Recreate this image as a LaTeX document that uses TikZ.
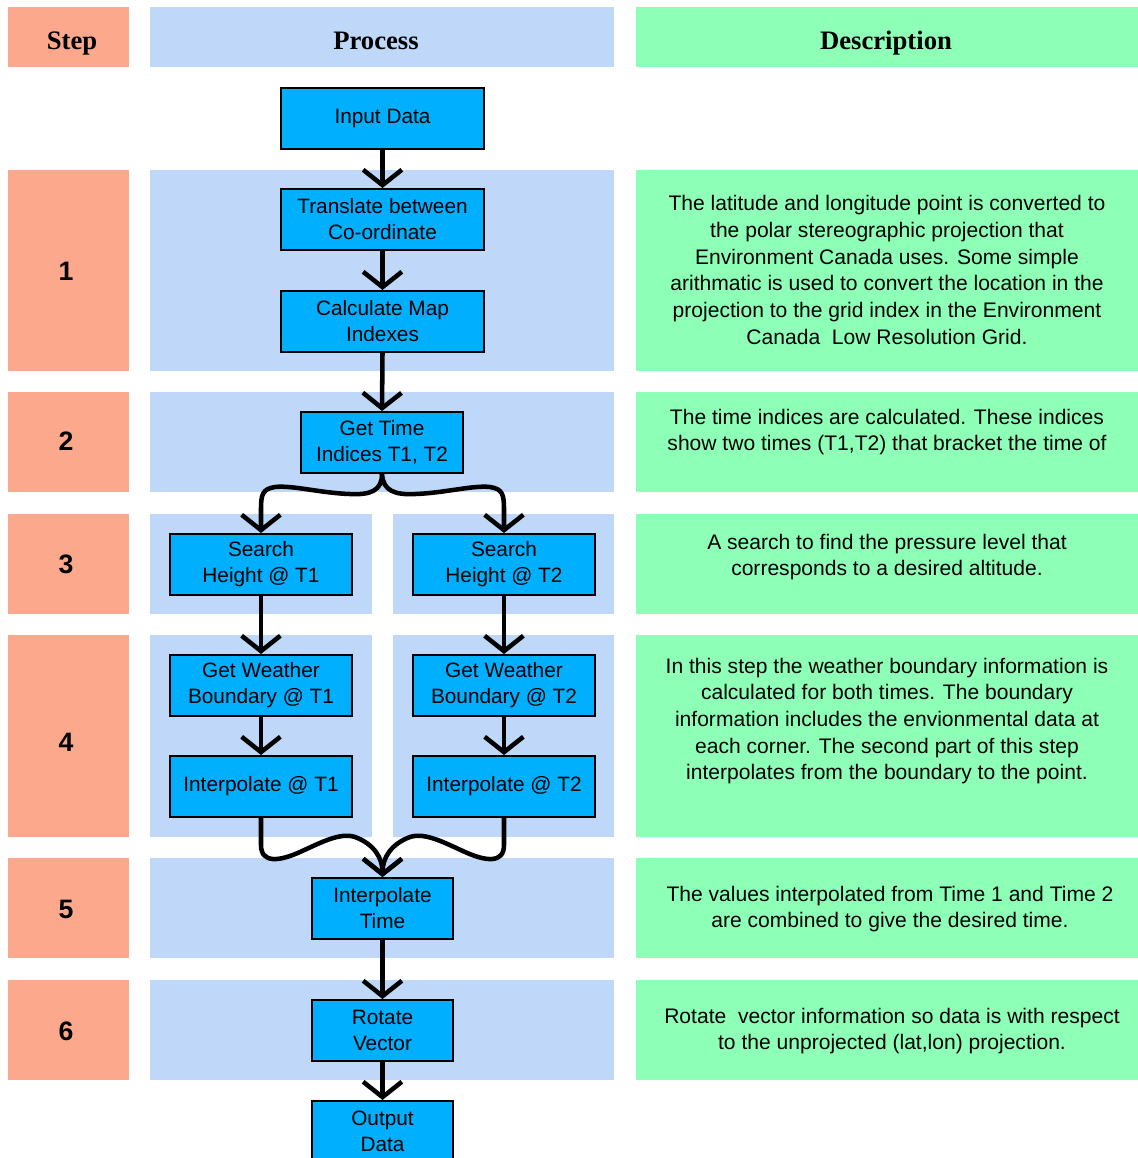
\documentclass[tikz,border=0pt]{standalone}
\usepackage{fontspec}
\setmainfont{Liberation Serif}
\setsansfont{Liberation Sans}
\usetikzlibrary{arrows.meta}
\definecolor{stepc}{RGB}{252,168,140}
\definecolor{procc}{RGB}{191,216,250}
\definecolor{descc}{RGB}{142,255,182}
\definecolor{boxc}{RGB}{0,176,255}
\tikzset{
  proc/.style={draw=black, line width=1.5pt, fill=boxc, inner sep=0pt, align=center,
    minimum height=45.75pt, font=\sffamily\fontsize{15.6}{19.5}\selectfont},
  wA/.style={minimum width=152.25pt},
  wB/.style={minimum width=121.5pt},
  wC/.style={minimum width=136.5pt},
  wD/.style={minimum width=105.75pt},
  arr/.style={line width=3.4pt, -{Straight Barb[length=11.5pt, width=29pt]}},
  desc/.style={align=center, inner sep=0pt, font=\sffamily\fontsize{15.8}{20}\selectfont},
  stepnum/.style={inner sep=0pt, font=\sffamily\bfseries\fontsize{20}{24}\selectfont},
  head/.style={inner sep=0pt, anchor=base, font=\rmfamily\bfseries\fontsize{20}{24}\selectfont}
}
\begin{document}
\begin{tikzpicture}[x=0.75pt,y=-0.75pt]
\useasboundingbox (0,0) rectangle (1138,1158);
% header bands
\fill[stepc] (8,7) rectangle (129,67);
\fill[procc] (150,7) rectangle (614,67);
\fill[descc] (636,7) rectangle (1138,67);
% row bands
\foreach \a/\b in {170/371,392/492,514/614,635/837,858/958,980/1080}{
  \fill[stepc] (8,\a) rectangle (129,\b);
  \fill[descc] (636,\a) rectangle (1138,\b);
}
\foreach \a/\b in {170/371,392/492,858/958,980/1080}{
  \fill[procc] (150,\a) rectangle (614,\b);
}
\foreach \a/\b in {514/614,635/837}{
  \fill[procc] (150,\a) rectangle (372,\b);
  \fill[procc] (393,\a) rectangle (614,\b);
}
% headers
\node[head] (hstep) at (72,49) {Step};
\node[head] (hproc) at (376,49) {Process};
\node[head] (hdesc) at (886,49) {Description};
% step numbers
\node[stepnum] (n1) at (66,271) {1};
\node[stepnum] (n2) at (66,441) {2};
\node[stepnum] (n3) at (66,564) {3};
\node[stepnum] (n4) at (66,742) {4};
\node[stepnum] (n5) at (66,909) {5};
\node[stepnum] (n6) at (66,1031) {6};
% process boxes
\node[proc,wA] (inp) at (382.5,118.5) {Input Data};
\node[proc,wA] (tr) at (382.5,219.5) {Translate between\\Co-ordinate};
\node[proc,wA] (cm) at (382.5,321.5) {Calculate Map\\Indexes};
\node[proc,wB] (gt) at (382,442.5) {Get Time\\Indices T1, T2};
\node[proc,wC] (s1) at (261,564.5) {Search\\Height @ T1};
\node[proc,wC] (s2) at (504,564.5) {Search\\Height @ T2};
\node[proc,wC] (g1) at (261,685.5) {Get Weather\\Boundary @ T1};
\node[proc,wC] (g2) at (504,685.5) {Get Weather\\Boundary @ T2};
\node[proc,wC] (i1) at (261,786.5) {Interpolate @ T1};
\node[proc,wC] (i2) at (504,786.5) {Interpolate @ T2};
\node[proc,wD] (it) at (382.5,908.5) {Interpolate\\Time};
\node[proc,wD] (rv) at (382.5,1030.5) {Rotate\\Vector};
\node[proc,wD] (out) at (382.5,1131.5) {Output\\Data};
% connectors
\draw[arr] (inp.south) -- (tr.north);
\draw[arr] (tr.south) -- (cm.north);
\draw[arr] (cm.south) -- (gt.north);
\draw[arr] (gt.south) .. controls (382,491) and (370,495) .. (350,494)
  .. controls (320,493) and (292,485) .. (275,487)
  .. controls (262,489) and (261,495) .. (261,510) -- (s1.north);
\draw[arr] (gt.south) .. controls (383,491) and (395,495) .. (415,494)
  .. controls (445,493) and (473,485) .. (490,487)
  .. controls (503,489) and (504,495) .. (504,510) -- (s2.north);
\draw[arr] (s1.south) -- (g1.north);
\draw[arr] (s2.south) -- (g2.north);
\draw[arr] (g1.south) -- (i1.north);
\draw[arr] (g2.south) -- (i2.north);
\draw[arr] (i1.south) -- (261,845) .. controls (261,864) and (280,861) .. (300,852)
  .. controls (320,843) and (340,832) .. (355,837)
  .. controls (374,844) and (382.5,858) .. (it.north);
\draw[arr] (i2.south) -- (504,845) .. controls (504,864) and (485,861) .. (465,852)
  .. controls (445,843) and (425,832) .. (410,837)
  .. controls (391,844) and (382.5,858) .. (it.north);
\draw[arr] (it.south) -- (rv.north);
\draw[arr] (rv.south) -- (out.north);
% descriptions
\node[desc] (d1) at (887,270) {The latitude and longitude point is converted to\\the polar stereographic projection that\\Environment Canada uses. Some simple\\arithmatic is used to convert the location in the\\projection to the grid index in the Environment\\Canada\ \ Low Resolution Grid.};
\node[desc] (d2) at (887,432) {The time indices are calculated. These indices\\show two times (T1,T2) that bracket the time of};
\node[desc] (d3) at (887,557) {A search to find the pressure level that\\corresponds to a desired altitude.};
\node[desc] (d4) at (887,721) {In this step the weather boundary information is\\calculated for both times. The boundary\\information includes the envionmental data at\\each corner. The second part of this step\\interpolates from the boundary to the point.};
\node[desc] (d5) at (890,909) {The values interpolated from Time 1 and Time 2\\are combined to give the desired time.};
\node[desc] (d6) at (892,1031) {Rotate\ \ vector information so data is with respect\\to the unprojected (lat,lon) projection.};
\end{tikzpicture}
\end{document}
